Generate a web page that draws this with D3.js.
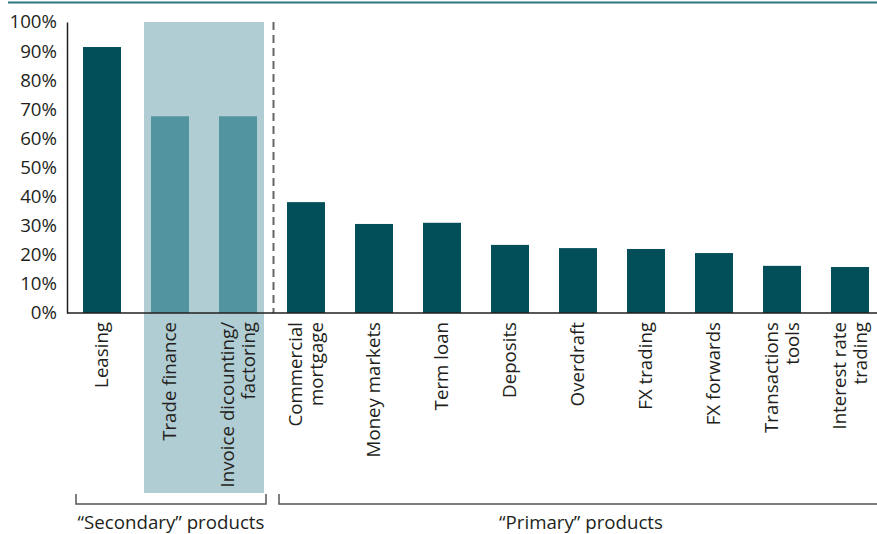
<!DOCTYPE html>
<html>
<head>
<meta charset="utf-8">
<script src="https://cdn.jsdelivr.net/npm/d3@7"></script>
<style>
  html, body { margin: 0; padding: 0; background: #fff; }
  svg { display: block; }
  text { font-family: "Open Sans", sans-serif; fill: #231f20; }
</style>
</head>
<body>
<svg id="chart" width="877" height="534"></svg>
<script>
// ---- data ----
const categories = [
  ["Leasing"],
  ["Trade finance"],
  ["Invoice dicounting/", "factoring"],
  ["Commercial", "mortgage"],
  ["Money markets"],
  ["Term loan"],
  ["Deposits"],
  ["Overdraft"],
  ["FX trading"],
  ["FX forwards"],
  ["Transactions", "tools"],
  ["Interest rate", "trading"]
];
const values = [91.4, 67.6, 67.6, 38.1, 30.6, 31.0, 23.4, 22.3, 22.0, 20.6, 16.2, 15.8];
const highlighted = [false, true, true, false, false, false, false, false, false, false, false, false];
const yTicks = [0, 10, 20, 30, 40, 50, 60, 70, 80, 90, 100];
const groupLabels = ["\u201CSecondary\u201D products", "\u201CPrimary\u201D products"];

// ---- layout ----
const svg = d3.select("#chart");
const W = 877, H = 534;
const axisX = 67, yTop = 22, yBase = 313;
const FS = "18.7px";
const keys = categories.map((c, i) => i);

const x = d3.scaleBand().domain(keys).range([68, 68 + 68 * 12])
  .paddingInner(30 / 68).paddingOuter(15 / 68);
const y = d3.scaleLinear().domain([0, 100]).range([yBase, yTop]);
const bw = x.bandwidth();

// top rule
svg.append("rect").attr("x", 8).attr("y", 1.5).attr("width", W - 8).attr("height", 2)
  .attr("fill", "#2d7580");

// highlight band
const hx0 = x(1) - 7, hx1 = x(2) + bw + 7;
svg.append("rect").attr("x", hx0).attr("y", yTop).attr("width", hx1 - hx0)
  .attr("height", 493 - yTop).attr("fill", "#b1cdd4");

// bars
svg.append("g").selectAll("rect").data(values).join("rect")
  .attr("x", (d, i) => x(i)).attr("width", bw)
  .attr("y", d => y(d)).attr("height", d => y(0) - y(d))
  .attr("fill", (d, i) => highlighted[i] ? "#5294a0" : "#024f5a");

// dashed divider
const divX = (x(2) + bw + x(3)) / 2 + 1.5;
svg.append("line").attr("x1", divX).attr("x2", divX).attr("y1", yTop).attr("y2", yBase)
  .attr("stroke", "#666").attr("stroke-width", 2).attr("stroke-dasharray", "8,5");

// y axis
const yAxis = d3.axisLeft(y).tickValues(yTicks).tickSize(0).tickPadding(10)
  .tickFormat(d => d + "%");
const gy = svg.append("g").attr("transform", `translate(${axisX},0)`).call(yAxis);
gy.select(".domain").attr("stroke", "#231f20").attr("stroke-width", 1.5);
gy.selectAll("text").style("font-family", "'Open Sans', sans-serif")
  .style("font-size", FS).attr("fill", "#231f20");

// x axis line
const xAxis = d3.axisBottom(x).tickSize(0).tickFormat("");
const gx = svg.append("g").attr("transform", `translate(0,${yBase})`).call(xAxis);
gx.select(".domain").attr("d", `M${axisX},0H${W}`).attr("stroke", "#231f20").attr("stroke-width", 1.5);

// category labels (rotated)
const lh = 21;
const labG = svg.append("g");
categories.forEach((lines, i) => {
  const cx = x(i) + bw / 2;
  const n = lines.length;
  lines.forEach((t, j) => {
    const off = (j - (n - 1) / 2) * lh + 6;
    labG.append("text")
      .attr("transform", `translate(${cx + off},${yBase + 9}) rotate(-90)`)
      .attr("text-anchor", "end")
      .style("font-size", FS)
      .text(t);
  });
});

// group brackets
const brY = 504, brTop = 494;
const brackets = [
  { x0: 76, x1: 266 },
  { x0: 279, x1: W }
];
brackets.forEach((b, i) => {
  svg.append("path")
    .attr("d", `M${b.x0},${brTop}V${brY}H${b.x1}` + (b.x1 < W ? `V${brTop}` : ""))
    .attr("fill", "none").attr("stroke", "#555").attr("stroke-width", 1.5);
  svg.append("text").attr("x", (b.x0 + b.x1) / 2 + (i === 1 ? 3 : 0)).attr("y", 529)
    .attr("text-anchor", "middle").style("font-size", FS).text(groupLabels[i]);
});
</script>
</body>
</html>
